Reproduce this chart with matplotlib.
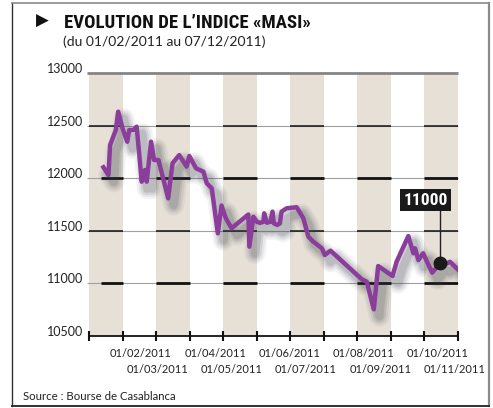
import matplotlib
matplotlib.use('Agg')
import matplotlib.pyplot as plt
import matplotlib.patheffects as pe
from matplotlib import font_manager
from matplotlib.lines import Line2D

# position along the axis (one unit per tick interval) and MASI closing level
pos = [0.43, 0.58, 0.63, 0.80, 0.87, 1.00, 1.14, 1.20, 1.32, 1.42, 1.50, 1.57,
       1.67, 1.72, 1.85, 1.94, 2.07, 2.21, 2.36, 2.49, 2.69, 2.91, 2.99, 3.19,
       3.41, 3.51, 3.66, 3.84, 3.95, 4.08, 4.25, 4.75, 4.78, 4.90, 5.00, 5.10,
       5.20, 5.22, 5.30, 5.41, 5.47, 5.51, 5.61, 5.69, 5.74, 5.89, 6.19, 6.39,
       6.54, 6.69, 6.94, 7.03, 7.20, 8.13, 8.28, 8.49, 8.62, 9.05, 9.17, 9.52,
       9.67, 9.72, 9.82, 9.96, 10.23, 10.46, 10.58, 10.76, 11.03]
masi = [12104, 12030, 12316, 12458, 12632, 12474, 12347, 12458, 12458, 12490,
        12220, 11967, 12078, 11967, 12347, 12173, 12173, 11999, 11809, 12142,
        12220, 12110, 12211, 12094, 12062, 11952, 11904, 11476, 11740, 11619,
        11524, 11655, 11349, 11634, 11586, 11575, 11586, 11666, 11577, 11586,
        11682, 11571, 11555, 11571, 11682, 11714, 11724, 11619, 11444, 11396,
        11334, 11270, 11311, 11039, 11016, 10754, 11165, 11070, 11206, 11450,
        11286, 11334, 11222, 11286, 11102, 11191, 11175, 11206, 11121]
highlight = 65  # index of the marked point
highlight_text = '11000'

levels = [10500, 11000, 11500, 12000, 12500, 13000]
level_labels = ['10500', '11000', '11500', '12000', '12500', '13000']
month_labels = ['01/02/2011', '01/03/2011', '01/04/2011', '01/05/2011', '01/06/2011',
                '01/07/2011', '01/08/2011', '01/09/2011', '01/10/2011', '01/11/2011']
n_ticks = 12

purple = '#8b3d9c'
band = '#e6e0d7'
font = ['Lato', 'DejaVu Sans']

# pick a condensed face if one is installed
installed = {f.name for f in font_manager.fontManager.ttflist}
narrow = 'DejaVu Sans'
for cand in ['Liberation Sans Narrow', 'Roboto Condensed', 'Open Sans Condensed',
             'DejaVu Sans Condensed', 'Noto Sans Condensed']:
    if cand in installed:
        narrow = cand
        break

fig = plt.figure(figsize=(4.93, 4.08), dpi=100)
renderer = fig.canvas.get_renderer()


def fit_width(t, width_px, max_size):
    # shrink a text until it spans the wanted width
    bb = t.get_window_extent(renderer)
    t.set_fontsize(min(max_size, t.get_fontsize() * width_px / bb.width))


ax = fig.add_axes([89 / 493, 1 - 336 / 408, 369 / 493, 263 / 408])
ax.set_xlim(0, n_ticks - 1)
ax.set_ylim(levels[0], levels[-1])

# alternating shaded columns
for i in range(0, n_ticks - 1, 2):
    ax.axvspan(i, i + 1, color=band, lw=0, zorder=0)

# grid: thin grey across, black over the shaded columns
for lv in levels[1:-1]:
    ax.hlines(lv, -0.06, n_ticks - 1, color='#a0a0a0', lw=0.8, zorder=1, clip_on=False)
    thick = lv in (11000, 12000)
    for i in range(0, n_ticks - 1, 2):
        start = i + 0.36 if (thick and i == 0) else i
        ax.hlines(lv, start, i + 1, color='#111111', lw=2.0 if thick else 1.1, zorder=1)
ax.hlines(levels[-1], -0.06, n_ticks - 1, color='#858585', lw=2.0, zorder=1, clip_on=False)

# the index line with a soft shadow
shadow = [pe.SimpleLineShadow(offset=(4, -5), shadow_color='#3a4048', alpha=a, linewidth=w,
                              joinstyle='round', capstyle='round')
          for w, a in [(15, 0.06), (12, 0.08), (9, 0.11), (6, 0.14)]]
shadow.append(pe.Normal())
ax.plot(pos, masi, color=purple, lw=3.2, solid_joinstyle='round', zorder=3, path_effects=shadow)

# callout
hx, hy = pos[highlight], masi[highlight]
ax.vlines(hx, hy, 11760, color='#222222', lw=1.0, zorder=4)
ax.plot([hx], [hy], 'o', color='#1a1a1a', ms=9, zorder=5)
call = ax.text(10.03, 11790, highlight_text, ha='center', va='center', color='white',
               fontsize=13, fontweight='bold', family=narrow, zorder=6,
               bbox=dict(boxstyle='square,pad=0.2', fc='#1a1a1a', ec='none'))

# axes styling
for s in ['left', 'right', 'top']:
    ax.spines[s].set_visible(False)
ax.spines['bottom'].set_color('#111111')
ax.spines['bottom'].set_linewidth(1.3)
ax.set_xticks(range(n_ticks))
ax.set_xticklabels([])
ax.tick_params(axis='x', direction='inout', length=7, width=1.5, color='#111111')
ax.set_yticks(levels, level_labels)
ax.tick_params(axis='y', length=0, pad=4, labelsize=9, labelcolor='#222222')
for t in ax.get_yticklabels():
    t.set_verticalalignment('baseline')
    t.set_family(font)

# staggered month labels
for i, lab in enumerate(month_labels):
    row = i % 2
    k = i // 2
    x = (1.55 + 2.21 * k) if row == 0 else (2.03 + 2.22 * k)
    ax.text(x, -0.08 - 0.06 * row, lab, transform=ax.get_xaxis_transform(),
            ha='center', va='baseline', fontsize=8, color='#222222', family=font)

# titles and source
fig.text(36 / 493, 1 - 26 / 408, '\u25B6', fontsize=12, color='#111111', va='baseline')
title = fig.text(64 / 493, 1 - 28 / 408, 'EVOLUTION DE L\u2019INDICE \u00abMASI\u00bb', fontsize=13.5,
                 fontweight='bold', family=narrow, color='#111111', va='baseline')
fig.text(63 / 493, 1 - 46 / 408, '(du 01/02/2011 au 07/12/2011)', fontsize=10,
         family=font, color='#222222', va='baseline')
fig.text(23 / 493, 1 - 400 / 408, 'Source : Bourse de Casablanca', fontsize=8.2,
         family=font, color='#222222', va='baseline')

fit_width(title, 288, 13.5)
fit_width(call, 44, 13)

# frame
fig.add_artist(Line2D([12 / 493, 12 / 493], [1 - 406 / 408, 1 - 3 / 408], color='#333333', lw=1.0))
fig.add_artist(Line2D([12 / 493, 489 / 493], [1 - 3 / 408, 1 - 3 / 408], color='#8a8a8a', lw=1.2))
fig.add_artist(Line2D([489 / 493, 489 / 493], [1 - 406 / 408, 1 - 3 / 408], color='#8a8a8a', lw=1.6))
fig.add_artist(Line2D([12 / 493, 489 / 493], [1 - 406 / 408, 1 - 406 / 408], color='#222222', lw=1.3))

fig.savefig('out.png', dpi=100)
